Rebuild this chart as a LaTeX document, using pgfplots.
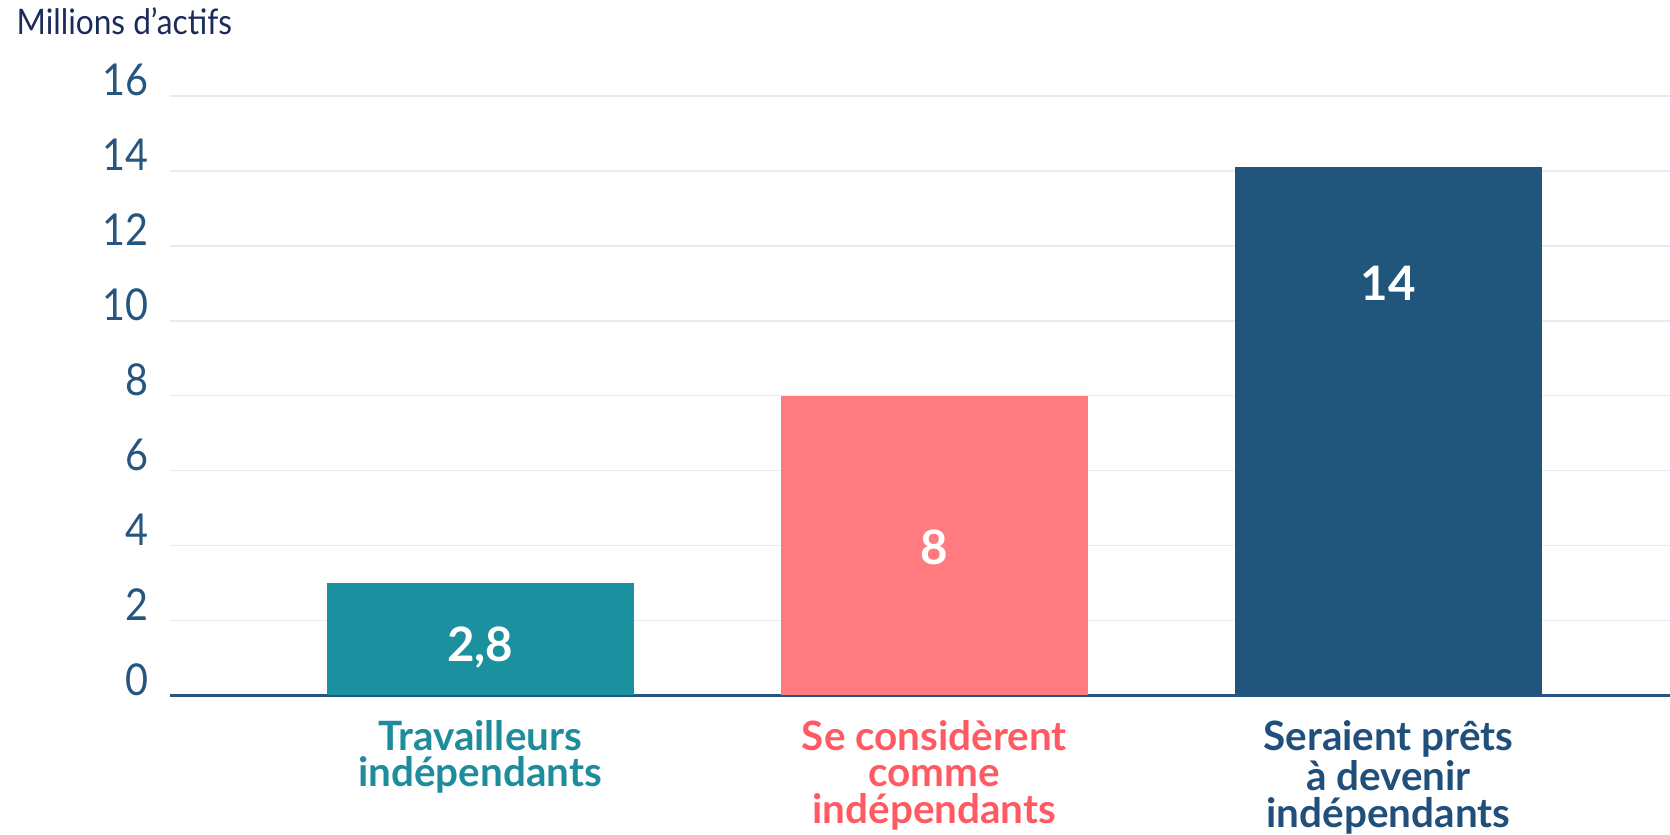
\documentclass[border=0pt]{standalone}
\usepackage{fontspec}
\setmainfont{Lato}
\newfontfamily\narrowfont[FakeStretch=0.9]{Lato}
\usepackage{pgfplots}
\pgfplotsset{compat=1.18}
\definecolor{tealbar}{HTML}{1B91A0}
\definecolor{salmonbar}{HTML}{FF7B80}
\definecolor{navybar}{HTML}{22557C}
\definecolor{tealtxt}{HTML}{1E8C9B}
\definecolor{salmontxt}{HTML}{FF5A62}
\definecolor{navytxt}{HTML}{1F4F7A}
\definecolor{ticktxt}{HTML}{26557F}
\definecolor{titletxt}{HTML}{1B2B5C}
\definecolor{gridc}{HTML}{E6ECEF}

\begin{document}
\begin{tikzpicture}
\begin{axis}[
  scale only axis, width=15cm, height=5.995cm,
  xmin=-0.683, xmax=2.62, ymin=0, ymax=16,
  enlargelimits=false,
  axis x line*=bottom, axis y line*=left,
  x axis line style={-, draw=ticktxt, line width=0.7pt},
  y axis line style={draw=none},
  major tick length=0pt,
  ymajorgrids, grid style={draw=gridc, line width=0.4pt},
  ytick={0,2,...,16},
  yticklabel style={font=\narrowfont\fontsize{12.5}{14}\selectfont, color=ticktxt, anchor=base east, inner sep=0pt, xshift=-0.21cm},
  /pgf/number format/assume math mode=true,
  xtick={0,1,2},
  xticklabels={{\color{tealtxt}Travailleurs\\\color{tealtxt}indépendants},
    {\color{salmontxt}Se considèrent\\\color{salmontxt}comme\\\color{salmontxt}indépendants},
    {\color{navytxt}Seraient prêts\\\color{navytxt}à devenir\\\color{navytxt}indépendants}},
  xticklabel style={align=center, font=\bfseries\fontsize{11.5}{10.4}\selectfont, anchor=north, inner sep=0pt, yshift=-0.24cm},
  ylabel={Millions d’actifs},
  ylabel style={rotate=-90, anchor=west, inner sep=0pt, at={(axis description cs:-0.1027,1.125)}, font=\narrowfont\fontsize{10}{12}\selectfont, color=titletxt},
  clip=false,
]
\addplot[ybar, bar width=3.07cm, fill=tealbar, draw=none] coordinates {(0,3.0)};
\addplot[ybar, bar width=3.07cm, fill=salmonbar, draw=none] coordinates {(1,8.0)};
\addplot[ybar, bar width=3.07cm, fill=navybar, draw=none] coordinates {(2,14.1)};
\addplot[draw=none, mark=none, nodes near coords, point meta=explicit symbolic,
  nodes near coords style={anchor=base, text=white, font=\bfseries\fontsize{13.5}{15}\selectfont, inner sep=0pt}]
  coordinates {(0,0.91) [2,8] (1,3.49) [8] (2,10.54) [14]};
\end{axis}
\pgfresetboundingbox
\path ([shift={(-1.70cm,-1.395cm)}]current axis.south west) rectangle ([shift={(0cm,0.96cm)}]current axis.north east);
\end{tikzpicture}
\end{document}
